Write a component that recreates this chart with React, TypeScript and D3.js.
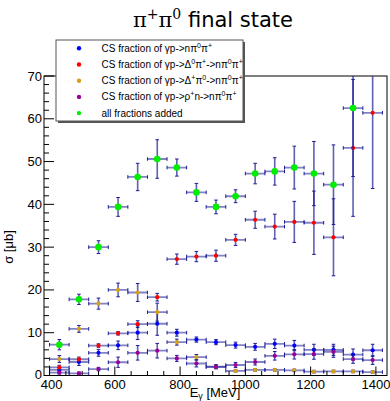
import React, { useEffect } from "react";
import * as d3 from "d3";

const energies = [430, 490, 550, 610, 670, 730, 790, 850, 910, 970, 1030, 1090, 1150, 1210, 1270, 1330, 1390];
const binHalfWidth = 30;

const blueVals = [1.3, 3.15, 5.3, 7.05, 10.0, 12.1, 10.0, 8.4, 7.8, 7.1, 6.7, 7.4, 7.0, 6.0, 6.0, 4.9, 5.9];
const blueErr = [0.5, 0.8, 0.8, 1.0, 1.6, 2.7, 0.8, 0.6, 0.6, 0.7, 0.8, 1.1, 1.2, 1.3, 1.3, 1.3, 1.4];

const redVals = [1.9, 3.8, 7.0, 9.85, 12.0, 18.3, 27.2, 27.8, 28.0, 31.7, 36.4, 34.8, 35.9, 35.7, 32.3, 53.2, 61.4];
const redErr = [0.5, 0.5, 0.4, 0.4, 0.8, 0.9, 1.2, 1.2, 1.3, 1.3, 2.0, 2.9, 4.8, 7.4, 9.0, 16, 17.7];

const orangeVals = [3.85, 10.9, 16.8, 20.0, 19.4, 14.8, 7.8, 4.3, 2.0, 1.1, 1.3, 1.3, 1.2, 0.9, 0.95, 0.95, 0.8];
const orangeErr = [0.8, 0.8, 1.3, 1.6, 2.1, 2.1, 0.7, 0.6, 0.3, 0.3, 0.3, 0.3, 0.3, 0.3, 0.3, 0.3, 0.3];

const purpleVals = [0.65, 0.5, 1.5, 3.1, 5.3, 5.8, 4.0, 2.8, 2.05, 2.45, 3.15, 4.6, 4.95, 5.0, 5.55, 3.85, 3.6];
const purpleErr = [0.3, 0.3, 0.4, 1.2, 1.7, 1.7, 0.7, 0.8, 0.5, 0.6, 0.7, 1.0, 1.1, 1.2, 1.3, 1.0, 1.0];

const greenVals: (number | null)[] = [7.2, 17.8, 30.0, 39.4, 46.4, 50.6, 48.6, 42.8, 39.4, 41.9, 47.2, 47.7, 48.6, 47.2, 44.6, 62.5, null];
const greenErr: (number | null)[] = [1.2, 1.2, 1.5, 2.2, 3.2, 4.5, 2.0, 2.1, 1.6, 1.5, 2.4, 3.2, 5.0, 7.5, 9.3, 16, null];

const xTicks = [400, 600, 800, 1000, 1200, 1400];
const yTicks = [0, 10, 20, 30, 40, 50, 60, 70];

const W = 390;
const H = 401;
const L = 44, R = 387, T = 76, B = 375.5;

const x = d3.scaleLinear().domain([383, 1434]).range([L, R]);
const y = d3.scaleLinear().domain([0, 70]).range([B, T]);

const ERR = "#1c1c96";

type Series = { vals: (number | null)[]; errs: (number | null)[]; color: string; r: number };

const series: Series[] = [
  { vals: blueVals, errs: blueErr, color: "#0000ff", r: 2.1 },
  { vals: redVals, errs: redErr, color: "#ff0000", r: 2.1 },
  { vals: orangeVals, errs: orangeErr, color: "#d4a017", r: 2.1 },
  { vals: purpleVals, errs: purpleErr, color: "#990099", r: 2.1 },
  { vals: greenVals, errs: greenErr, color: "#00ee00", r: 3.3 },
];

function SeriesMarks({ s }: { s: Series }) {
  return (
    <g>
      {energies.map((e, i) => {
        const v = s.vals[i];
        const er = s.errs[i];
        if (v == null || er == null) return null;
        const cx = x(e);
        const cy = y(v);
        const x0 = x(e - binHalfWidth);
        const x1 = x(e + binHalfWidth);
        const y0 = y(v - er);
        const y1 = y(v + er);
        return (
          <g key={i}>
            <line x1={x0} x2={x1} y1={cy} y2={cy} stroke={ERR} strokeWidth={1.8} strokeOpacity={0.55} />
            <line x1={cx} x2={cx} y1={y0} y2={y1} stroke={ERR} strokeWidth={1.6} strokeOpacity={0.7} />
            <line x1={x0} x2={x0} y1={cy - 1.8} y2={cy + 1.8} stroke={ERR} strokeWidth={1} />
            <line x1={x1} x2={x1} y1={cy - 1.8} y2={cy + 1.8} stroke={ERR} strokeWidth={1} />
            <line x1={cx - 1.8} x2={cx + 1.8} y1={y0} y2={y0} stroke={ERR} strokeWidth={1} />
            <line x1={cx - 1.8} x2={cx + 1.8} y1={y1} y2={y1} stroke={ERR} strokeWidth={1} />
          </g>
        );
      })}
      {energies.map((e, i) => {
        const v = s.vals[i];
        if (v == null) return null;
        return <circle key={"m" + i} cx={x(e)} cy={y(v)} r={s.r} fill={s.color} />;
      })}
    </g>
  );
}

export default function App() {
  useEffect(() => {
    document.body.style.margin = "0";
  }, []);

  const xMinor = d3.range(400, 1434, 50);
  const yMinor = d3.range(0, 70.01, 2);
  const font = "'Liberation Sans', Arial, sans-serif";

  const legendRows = [
    { color: "#0000ff", label: <>CS fraction of γp-&gt;nπ<tspan dy={-4} fontSize={7}>0</tspan><tspan dy={4}>π</tspan><tspan dy={-4} fontSize={7}>+</tspan></> },
    { color: "#ff0000", label: <>CS fraction of γp-&gt;Δ<tspan dy={-4} fontSize={7}>0</tspan><tspan dy={4}>π</tspan><tspan dy={-4} fontSize={7}>+</tspan><tspan dy={4}>-&gt;nπ</tspan><tspan dy={-4} fontSize={7}>0</tspan><tspan dy={4}>π</tspan><tspan dy={-4} fontSize={7}>+</tspan></> },
    { color: "#d4a017", label: <>CS fraction of γp-&gt;Δ<tspan dy={-4} fontSize={7}>+</tspan><tspan dy={4}>π</tspan><tspan dy={-4} fontSize={7}>0</tspan><tspan dy={4}>-&gt;nπ</tspan><tspan dy={-4} fontSize={7}>0</tspan><tspan dy={4}>π</tspan><tspan dy={-4} fontSize={7}>+</tspan></> },
    { color: "#990099", label: <>CS fraction of γp-&gt;ρ<tspan dy={-4} fontSize={7}>+</tspan><tspan dy={4}>n-&gt;nπ</tspan><tspan dy={-4} fontSize={7}>0</tspan><tspan dy={4}>π</tspan><tspan dy={-4} fontSize={7}>+</tspan></> },
    { color: "#00ee00", label: <>all fractions added</> },
  ];

  return (
    <svg width={W} height={H} style={{ display: "block", background: "#fff" }} fontFamily={font}>
      <defs>
        <clipPath id="plotclip">
          <rect x={L} y={T} width={R - L} height={B - T} />
        </clipPath>
      </defs>
      <rect x={0} y={0} width={W} height={H} fill="#fff" />

      {/* Title */}
      <text x={213} y={27} textAnchor="middle" fontSize={21} fill="#000">
        <tspan fontFamily="'DejaVu Serif', serif">π</tspan>
        <tspan fontFamily="'DejaVu Serif', serif" fontSize={14} dy={-8}>+</tspan>
        <tspan fontFamily="'DejaVu Serif', serif" dy={8}>π</tspan>
        <tspan fontFamily="'DejaVu Serif', serif" fontSize={14} dy={-8}>0</tspan>
        <tspan fontFamily="'DejaVu Sans', sans-serif" dy={8}> final state</tspan>
      </text>

      {/* Frame */}
      <rect x={L} y={T} width={R - L} height={B - T} fill="none" stroke="#000" strokeWidth={1} />

      {/* Data */}
      <g clipPath="url(#plotclip)">
        {series.map((s, i) => (
          <SeriesMarks key={i} s={s} />
        ))}
      </g>

      {/* X ticks */}
      {xMinor.map((t) => (
        <line key={"xm" + t} x1={x(t)} x2={x(t)} y1={B} y2={B - (t % 200 === 0 ? 9 : 4.5)} stroke="#000" strokeWidth={1} />
      ))}
      {xTicks.map((t) => (
        <text key={"xl" + t} x={x(t) + (t === 400 ? 2 : 0)} y={389} textAnchor="middle" fontSize={13} fill="#000">
          {t}
        </text>
      ))}
      {/* Y ticks */}
      {yMinor.map((t) => (
        <line key={"ym" + t} x1={L} x2={L + (t % 10 === 0 ? 10 : 5)} y1={y(t)} y2={y(t)} stroke="#000" strokeWidth={1} />
      ))}
      {yTicks.map((t) => (
        <text key={"yl" + t} x={42} y={y(t) + (t === 0 ? 3 : 4.5)} textAnchor="end" fontSize={13} fill="#000">
          {t}
        </text>
      ))}

      {/* Axis titles */}
      <text x={215} y={396.5} textAnchor="middle" fontSize={13} fill="#000">
        E<tspan fontSize={9} dy={2}>γ</tspan>
        <tspan dy={-2}> [MeV]</tspan>
      </text>
      <text transform={`translate(13, 247) rotate(-90)`} textAnchor="middle" fontSize={13} fill="#000">
        σ [μb]
      </text>

      {/* Legend */}
      <rect x={58} y={42} width={187} height={81} fill="#555" />
      <rect x={56} y={40} width={187} height={81} fill="#fff" stroke="#555" strokeWidth={1} />
      {legendRows.map((row, i) => {
        const cy = 48.3 + i * 16.2;
        return (
          <g key={"lg" + i}>
            <circle cx={79} cy={cy} r={2.2} fill={row.color} />
            <text x={101.5} y={cy + 3.5} fontSize={10} fill="#000">
              {row.label}
            </text>
          </g>
        );
      })}
    </svg>
  );
}
